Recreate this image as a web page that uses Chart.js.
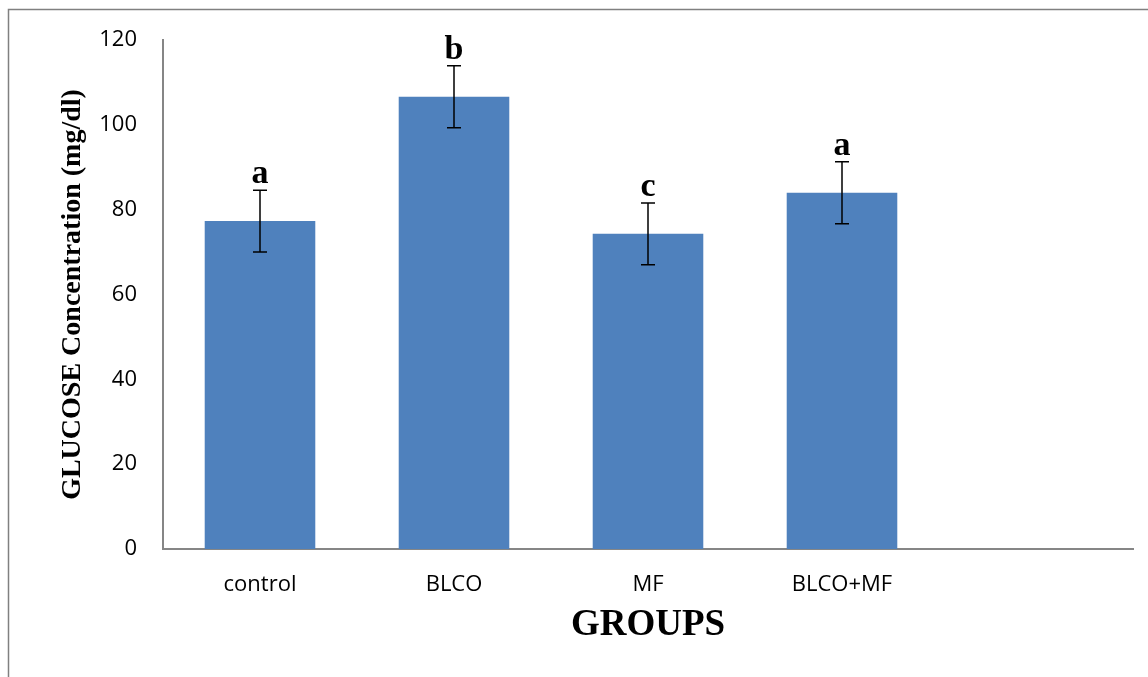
<!DOCTYPE html>
<html>
<head>
<meta charset="utf-8">
<script src="https://cdn.jsdelivr.net/npm/chart.js"></script>
<style>
html,body{margin:0;padding:0;background:#fff;}
#wrap{width:1148px;height:677px;position:relative;}
</style>
</head>
<body>
<div id="wrap"><canvas id="chart"></canvas></div>
<script>
// groups (last slot is empty, as in the original sheet)
const groups=['control','BLCO','MF','BLCO+MF',''];
const glucose=[77.3,106.6,74.3,84.0,null];
const errors=[7.3,7.3,7.3,7.3,null];
const letters=['a','b','c','a',''];
const yTicks=[0,20,40,60,80,100,120];

const frame={
 id:'frame',
 beforeDraw(c){
  const ctx=c.ctx;
  ctx.save();
  ctx.strokeStyle='#808080';ctx.lineWidth=1.5;
  ctx.beginPath();ctx.moveTo(8.5,677);ctx.lineTo(8.5,9.5);ctx.lineTo(1148,9.5);ctx.stroke();
  ctx.restore();
 }
};

const errBars={
 id:'errBars',
 afterDatasetsDraw(c){
  const ctx=c.ctx,y=c.scales.y,meta=c.getDatasetMeta(0);
  ctx.save();
  meta.data.forEach((bar,i)=>{
   if(glucose[i]==null)return;
   const top=y.getPixelForValue(glucose[i]+errors[i]);
   const bot=y.getPixelForValue(glucose[i]-errors[i]);
   const x=bar.x;
   ctx.strokeStyle='#000';ctx.lineWidth=1.5;
   ctx.beginPath();
   ctx.moveTo(x,top);ctx.lineTo(x,bot);
   ctx.moveTo(x-7,top);ctx.lineTo(x+7,top);
   ctx.moveTo(x-7,bot);ctx.lineTo(x+7,bot);
   ctx.stroke();
   ctx.fillStyle='#000';
   ctx.font='bold 34px "Liberation Serif", "Times New Roman", serif';
   ctx.textAlign='center';ctx.textBaseline='alphabetic';
   ctx.fillText(letters[i],x,top-7);
  });
  ctx.restore();
 }
};

new Chart(document.getElementById('chart'),{
 type:'bar',
 data:{labels:groups,datasets:[{data:glucose,backgroundColor:'#4F81BD',borderWidth:0,categoryPercentage:1,barPercentage:0.57}]},
 options:{
  responsive:true,maintainAspectRatio:false,animation:false,
  layout:{padding:{left:0,top:40,right:15,bottom:0}},
  plugins:{legend:{display:false},tooltip:{enabled:false}},
  scales:{
   x:{
    grid:{display:false,drawTicks:false},
    border:{display:true,color:'#868686',width:2},
    ticks:{color:'#000',padding:23,font:{family:'"Open Sans"',size:22}},
    title:{display:true,text:'GROUPS',color:'#000',padding:{top:0,bottom:29},font:{family:'"Liberation Serif", serif',size:37,weight:'bold'}},
    afterFit(s){s.height=128;}
   },
   y:{
    min:0,max:120,
    grid:{display:false,drawTicks:false},
    border:{display:true,color:'#868686',width:2},
    afterBuildTicks(s){s.ticks=yTicks.map(v=>({value:v}));},
    ticks:{color:'#000',padding:26,font:{family:'"Open Sans"',size:22}},
    title:{display:true,text:'GLUCOSE Concentration (mg/dl)',color:'#000',padding:{top:56,bottom:0},font:{family:'"Liberation Serif", serif',size:28,weight:'bold'}},
    afterFit(s){s.width=163;}
   }
  }
 },
 plugins:[frame,errBars]
});
</script>
</body>
</html>
